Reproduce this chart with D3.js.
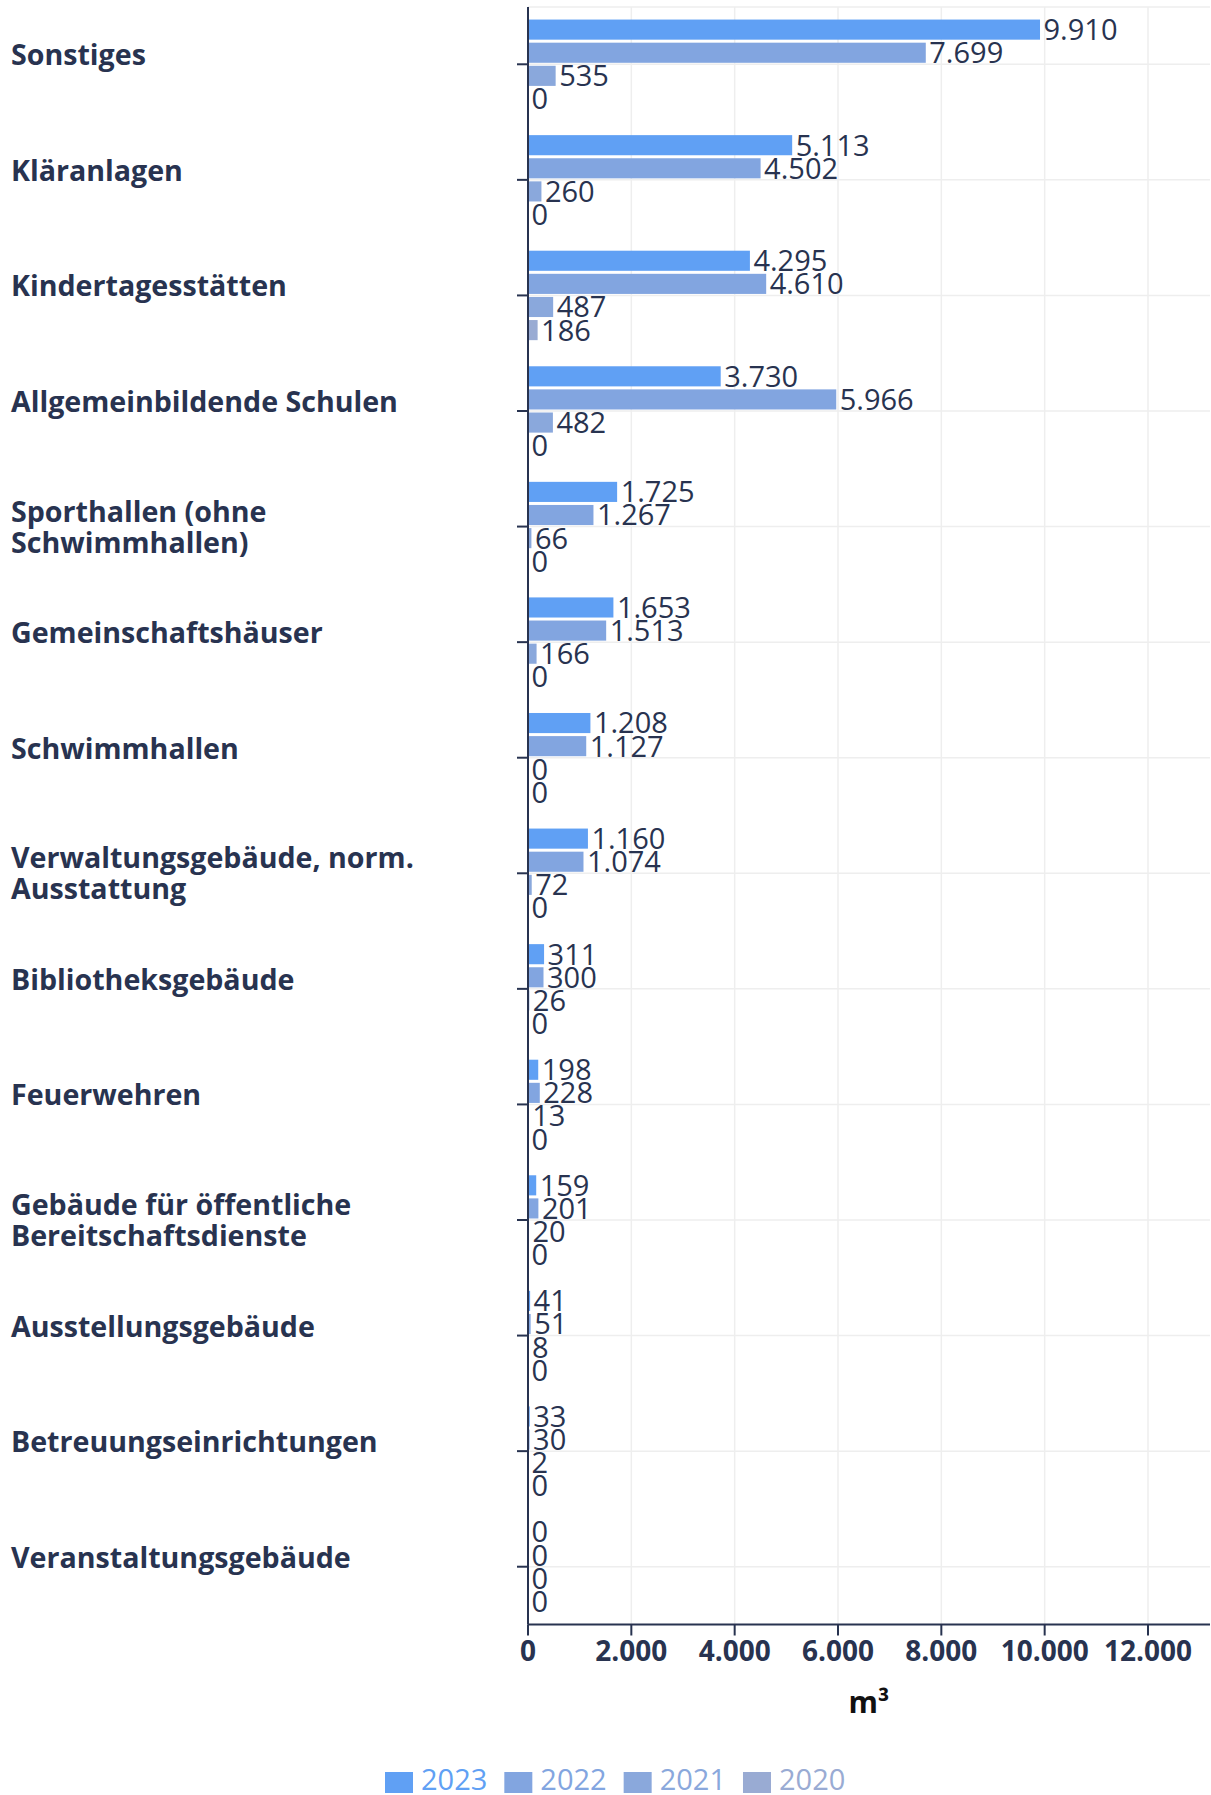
<!DOCTYPE html>
<html>
<head>
<meta charset="utf-8">
<script src="https://cdn.jsdelivr.net/npm/d3@7"></script>
<style>
  body { margin: 0; background: #fff; }
  text { font-family: "Open Sans", "Noto Sans", sans-serif; }
</style>
</head>
<body>
<div id="chart"></div>
<script>
// categories, top to bottom ("|" marks a line break in the label)
const categories = [
    "Sonstiges",
    "Kläranlagen",
    "Kindertagesstätten",
    "Allgemeinbildende Schulen",
    "Sporthallen (ohne|Schwimmhallen)",
    "Gemeinschaftshäuser",
    "Schwimmhallen",
    "Verwaltungsgebäude, norm.|Ausstattung",
    "Bibliotheksgebäude",
    "Feuerwehren",
    "Gebäude für öffentliche|Bereitschaftsdienste",
    "Ausstellungsgebäude",
    "Betreuungseinrichtungen",
    "Veranstaltungsgebäude"
];
const years = ["2023", "2022", "2021", "2020"];
const values2023 = [9910, 5113, 4295, 3730, 1725, 1653, 1208, 1160, 311, 198, 159, 41, 33, 0];
const values2022 = [7699, 4502, 4610, 5966, 1267, 1513, 1127, 1074, 300, 228, 201, 51, 30, 0];
const values2021 = [535, 260, 487, 482, 66, 166, 0, 72, 26, 13, 20, 8, 2, 0];
const values2020 = [0, 0, 186, 0, 0, 0, 0, 0, 0, 0, 0, 0, 0, 0];
const xTicks = [0, 2000, 4000, 6000, 8000, 10000, 12000];
const colors = ["#60a0f4", "#82a5e0", "#8aa8dc", "#99abd3"];

const series = [values2023, values2022, values2021, values2020];

const width = 1211, height = 1795;
const plotLeft = 528, plotRight = 1210, plotTop = 6.5, plotBottom = 1624.5;
const textColor = "#283350";

const de = d3.formatLocale({decimal: ",", thousands: ".", grouping: [3], currency: ["", "€"]});
const fmt = de.format(",d");

const svg = d3.select("#chart").append("svg")
    .attr("width", width)
    .attr("height", height);

const x = d3.scaleLinear().domain([0, 13200]).range([plotLeft, plotRight]);
const y = d3.scaleBand().domain(categories).range([plotTop, plotBottom]).padding(0);
const step = y.bandwidth();
const yInner = d3.scaleBand().domain(years)
    .range([step * 0.1, step * 0.9])
    .paddingInner(0.13)
    .paddingOuter(0.065);

// grid
svg.append("line")
    .attr("x1", plotLeft).attr("x2", plotRight)
    .attr("y1", 7).attr("y2", 7)
    .style("stroke", "#eeeeee").style("stroke-width", 1.5);

svg.selectAll(".vgrid")
    .data(xTicks.slice(1))
    .enter()
    .append("line")
    .attr("x1", d => x(d)).attr("x2", d => x(d))
    .attr("y1", 7).attr("y2", plotBottom)
    .style("stroke", "#eeeeee").style("stroke-width", 1.5);

svg.selectAll(".hgrid")
    .data(categories)
    .enter()
    .append("line")
    .attr("x1", plotLeft).attr("x2", plotRight)
    .attr("y1", d => y(d) + step / 2).attr("y2", d => y(d) + step / 2)
    .style("stroke", "#eeeeee").style("stroke-width", 1.5);

// bars + labels
const rows = [];
categories.forEach((c, i) => {
    years.forEach((yr, j) => rows.push({cat: c, year: yr, value: series[j][i], color: colors[j]}));
});

svg.selectAll(".bar")
    .data(rows)
    .enter()
    .append("rect")
    .attr("x", x(0))
    .attr("y", d => y(d.cat) + yInner(d.year))
    .attr("width", d => x(d.value) - x(0))
    .attr("height", yInner.bandwidth())
    .attr("fill", d => d.color);

svg.selectAll(".val")
    .data(rows)
    .enter()
    .append("text")
    .attr("x", d => x(d.value) + 3.5)
    .attr("y", d => y(d.cat) + yInner(d.year) + yInner.bandwidth() / 2)
    .attr("dy", "0.36em")
    .style("font-size", "29px")
    .style("fill", textColor)
    .text(d => fmt(d.value));

// y axis
svg.append("line")
    .attr("x1", plotLeft).attr("x2", plotLeft)
    .attr("y1", 7).attr("y2", plotBottom)
    .style("stroke", textColor).style("stroke-width", 2);

svg.selectAll(".ytick")
    .data(categories)
    .enter()
    .append("line")
    .attr("x1", plotLeft - 11).attr("x2", plotLeft)
    .attr("y1", d => y(d) + step / 2).attr("y2", d => y(d) + step / 2)
    .style("stroke", textColor).style("stroke-width", 2);

const labels = svg.selectAll(".ylabel")
    .data(categories)
    .enter()
    .append("text")
    .attr("x", 11)
    .style("font-size", "28.6px")
    .style("font-weight", "bold")
    .style("fill", textColor);

labels.each(function(d) {
    const lines = d.split("|");
    const c = y(d) + step / 2;
    const base = lines.length === 1 ? c + 1 : c - 5;
    d3.select(this).selectAll("tspan")
        .data(lines)
        .enter()
        .append("tspan")
        .attr("x", 11)
        .attr("y", (l, k) => base + k * 31)
        .text(l => l);
});

// x axis
svg.append("line")
    .attr("x1", plotLeft).attr("x2", plotRight)
    .attr("y1", plotBottom).attr("y2", plotBottom)
    .style("stroke", textColor).style("stroke-width", 2);

svg.selectAll(".xtick")
    .data(xTicks)
    .enter()
    .append("line")
    .attr("x1", d => x(d)).attr("x2", d => x(d))
    .attr("y1", plotBottom).attr("y2", plotBottom + 11)
    .style("stroke", textColor).style("stroke-width", 2);

svg.selectAll(".xlabel")
    .data(xTicks)
    .enter()
    .append("text")
    .attr("x", d => x(d))
    .attr("y", 1661)
    .attr("text-anchor", "middle")
    .style("font-size", "28px")
    .style("font-weight", "bold")
    .style("fill", textColor)
    .text(d => fmt(d));

svg.append("text")
    .attr("x", (plotLeft + plotRight) / 2)
    .attr("y", 1713)
    .attr("text-anchor", "middle")
    .style("font-size", "30px")
    .style("font-weight", "bold")
    .style("fill", "#111")
    .text("m³");

// legend
let lx = 385;
years.forEach((yr, j) => {
    svg.append("rect")
        .attr("x", lx).attr("y", 1772)
        .attr("width", 28).attr("height", 21)
        .attr("fill", colors[j]);
    const t = svg.append("text")
        .attr("x", lx + 36).attr("y", 1790)
        .style("font-size", "29px")
        .style("fill", colors[j])
        .text(yr);
    lx += 36 + t.node().getComputedTextLength() + 17;
});
</script>
</body>
</html>
